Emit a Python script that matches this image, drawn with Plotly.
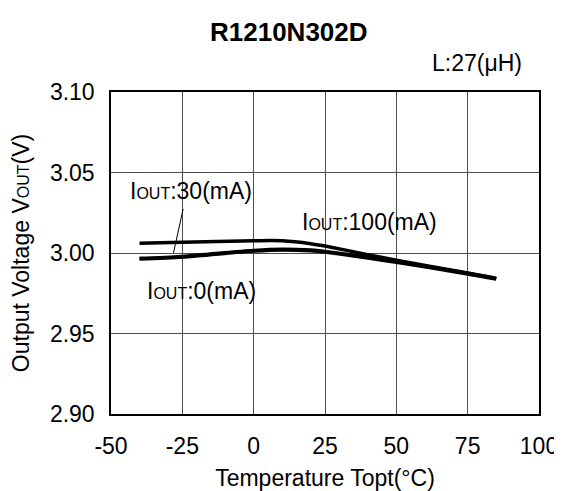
import plotly.graph_objects as go

# ---- data ----
temp = [-40, -25, 0, 10, 20, 25, 50, 75, 85]
vout_100mA = [3.0060, 3.0066, 3.0076, 3.0076, 3.0058, 3.0043, 2.9955, 2.9876, 2.9843]
vout_30mA = [2.9967, 2.9979, 3.0016, 3.0023, 3.0018, 3.0010, 2.9948, 2.9874, 2.9841]
vout_0mA = [2.9963, 2.9975, 3.0012, 3.0019, 3.0014, 3.0006, 2.9942, 2.9870, 2.9838]

x_ticks = [-50, -25, 0, 25, 50, 75, 100]
x_tick_text = ["-50", "-25", "0", "25", "50", "75", "100"]
y_ticks = [2.90, 2.95, 3.00, 3.05, 3.10]
y_tick_text = ["2.90", "2.95", "3.00", "3.05", "3.10"]

FONT = "Liberation Sans, Arial, sans-serif"
SUB = "<span style='font-size:16px'>OUT</span>"
FS = 23

fig = go.Figure()
for name, v in [("IOUT:100(mA)", vout_100mA), ("IOUT:30(mA)", vout_30mA), ("IOUT:0(mA)", vout_0mA)]:
    fig.add_trace(go.Scatter(x=temp, y=v, mode="lines", name=name,
                             line=dict(color="black", width=3.5, shape="spline", smoothing=0.8),
                             showlegend=False, hoverinfo="x+y+name"))

axis_common = dict(showline=True, linecolor="black", linewidth=1.5, mirror=True,
                   showgrid=True, gridcolor="#4d4d4d", gridwidth=1, zeroline=False,
                   ticks="", tickfont=dict(size=FS, color="black", family=FONT))

fig.update_xaxes(range=[-50, 100], tickvals=x_ticks, ticktext=x_tick_text, ticklabelstandoff=11,
                 title=dict(text="Temperature Topt(°C)", font=dict(size=FS, color="black", family=FONT), standoff=12),
                 **axis_common)
fig.update_yaxes(range=[2.90, 3.10], tickvals=y_ticks, ticktext=y_tick_text, ticklabelstandoff=10,
                 title=dict(text="Output Voltage V" + SUB + "(V)", font=dict(size=FS, color="black", family=FONT), standoff=14),
                 **axis_common)

anns = [
    dict(x=-21.8, y=3.0386, text="I" + SUB + ":30(mA)"),
    dict(x=-18.3, y=2.9766, text="I" + SUB + ":0(mA)"),
    dict(x=40.7, y=3.0190, text="I" + SUB + ":100(mA)"),
]
for a in anns:
    fig.add_annotation(x=a["x"], y=a["y"], text=a["text"], showarrow=False, xref="x", yref="y",
                       xanchor="center", yanchor="middle",
                       font=dict(size=FS, color="black", family=FONT))
# leader line for IOUT:30(mA)
fig.add_annotation(x=-28.1, y=3.0001, ax=-24.6, ay=3.0283, axref="x", ayref="y", xref="x", yref="y",
                   text="", showarrow=True, arrowhead=0, arrowwidth=1, arrowcolor="black")

fig.add_annotation(x=0.417, y=1.0, xref="paper", yref="paper", yshift=60, xanchor="center", yanchor="middle",
                   text="<b>R1210N302D</b>", showarrow=False, font=dict(size=26, color="black", family=FONT))
fig.add_annotation(x=1.0, y=1.0, xref="paper", yref="paper", xshift=-15, yshift=29,
                   xanchor="right", yanchor="middle",
                   text="L:27(μH)", showarrow=False, font=dict(size=FS, color="black", family=FONT))

fig.update_layout(width=562, height=491, margin=dict(l=102, r=29, t=84, b=78),
                  paper_bgcolor="white", plot_bgcolor="white",
                  font=dict(family=FONT, color="black"))
fig.write_html("out.html")
